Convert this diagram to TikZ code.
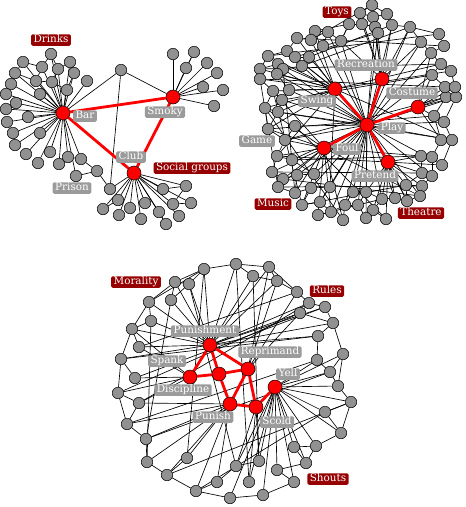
\documentclass[tikz,border=0pt]{standalone}
\usepackage{fontspec}
\setmainfont{DejaVu Serif}
\pgfdeclarelayer{bg}\pgfdeclarelayer{mid}\pgfdeclarelayer{fg}
\pgfsetlayers{bg,mid,main,fg}
\definecolor{nodegray}{RGB}{145,145,145}
\definecolor{labgray}{RGB}{155,155,155}
\definecolor{darkred}{RGB}{150,0,0}
\tikzset{
 gn/.style={circle,draw=black,line width=0.5pt,fill=nodegray,minimum size=11.5pt,inner sep=0pt},
 rn/.style={circle,draw=black,line width=0.5pt,fill=red,minimum size=14pt,inner sep=0pt},
 edge/.style={draw=black,line width=0.65pt},
 redge/.style={draw=red,line width=2.8pt},
 glab/.style={fill=labgray,text=white,rounded corners=1.5pt,inner xsep=2.5pt,inner ysep=1pt,text height=7.3pt,text depth=2.2pt,font=\fontsize{10.4}{11}\selectfont},
 rlab/.style={glab,fill=darkred},
}
\begin{document}
\begin{tikzpicture}[x=1pt,y=-1pt]
\useasboundingbox (0,0) rectangle (466,507);
% ================= Panel 1 =================
\node[rn] (Bar) at (63,113) {};
\node[rn] (Smoky) at (173,97) {};
\node[rn] (Club) at (134,173) {};
\node[gn] (h) at (121,70) {};
\foreach \n/\x/\y in {d1/51/54,d2/23/62,d3/42/67,d4/58/69,d5/70/62,d6/15/73,d7/36/81,d8/52/82,d9/74/73,d10/87/81,
 d11/11/84,d12/67/90,d13/6/94,d14/40/94,d15/16/103,d16/6/109,d17/28/117,d18/7/122,d19/13/133,d20/40/133,
 d21/15/145,d22/50/152,d23/26/154,d24/68/157,d25/81/159,d26/38/163,d27/59/164,d28/97/171,d29/76/176,d30/110/189,
 s1/173/54,s2/194/52,s3/186/68,s4/207/63,s5/217/73,s6/203/87,s7/223/90,s8/214/106,
 c1/103/209,c2/118/200,c3/119/215,c4/130/208,c5/141/219,c6/145/203,c7/159/212,c8/163/189,c9/173/204,c10/179/216,c11/186/186,c12/191/203,c13/166/224}
 \node[gn] (\n) at (\x,\y) {};
\begin{pgfonlayer}{bg}
\foreach \b in {d1,d2,d3,d4,d5,d6,d7,d8,d9,d10,d11,d12,d13,d14,d15,d16,d17,d18,d19,d20,d21,d22,d23,d24,d25,d26,d27,d29,h}
 \draw[edge] (Bar) -- (\b);
\foreach \b in {s1,s2,s3,s4,s5,s6,s7,s8,h}
 \draw[edge] (Smoky) -- (\b);
\foreach \b in {d30,c1,c2,c3,c4,c5,c6,c7,c8,c9,c10,c11,c12,c13}
 \draw[edge] (Club) -- (\b);
\foreach \a/\b in {d2/d3,d1/d3,d1/d4,d4/d5,d5/d9,d3/d7,d7/d8,d8/d4,d8/d12,d9/d12,d2/d6,d6/d7,
 d25/d28,d28/d30,d29/d28,d24/d25,h/d30,s2/s3,c1/c2,c8/c11,c9/c12,c11/c9,c7/c13}
 \draw[edge] (\a) -- (\b);
\end{pgfonlayer}
\begin{pgfonlayer}{mid}
\draw[redge] (Bar) -- (Smoky);
\draw[redge] (Bar) -- (Club);
\draw[redge] (Smoky) -- (Club);
\end{pgfonlayer}
\begin{pgfonlayer}{fg}
\node[rlab] (lDrinks) at (51,40) {Drinks};
\node[glab] (lBar) at (85,116) {Bar};
\node[glab] (lSmoky) at (165,112) {Smoky};
\node[glab] (lClub) at (131,157) {Club};
\node[rlab] (lSocial) at (192,168) {Social groups};
\node[glab] (lPrison) at (72,188) {Prison};
\end{pgfonlayer}
% ================= Panel 2 =================
\node[rn] (Play) at (367,125) {};
\node[rn] (Swing) at (335,89) {};
\node[rn] (Recreation) at (382,79) {};
\node[rn] (Costume) at (418,107) {};
\node[rn] (Foul) at (324,148) {};
\node[rn] (Pretend) at (388,162) {};
\foreach \n/\x/\y in {q1/372/5,q2/360/13,q3/387/14,q4/373/17,q5/349/24,q6/362/24,q7/375/27,q8/392/25,q9/410/27,q10/378/33,
 q11/315/31,q12/328/32,q13/297/38,q14/311/40,q15/323/46,q16/341/41,q17/287/51,q18/268/56,q19/295/57,q20/309/57,
 q21/278/64,q22/302/66,q23/260/69,q24/283/69,q25/277/74,q26/260/79,q27/273/91,q28/289/90,q29/282/100,q30/265/108,
 q31/278/112,q32/295/126,q33/268/129,q34/285/140,q35/277/156,q36/292/160,q37/272/172,q38/283/179,q39/297/175,q40/314/174,
 q41/278/187,q42/295/193,q43/311/188,q44/330/187,q45/302/205,q46/320/202,q47/331/212,q48/318/215,q49/345/205,q50/343/220,
 q51/353/192,q52/366/192,q53/358/205,q54/373/210,q55/366/218,q56/382/199,q57/395/198,q58/386/219,q59/407/201,q60/406/185,
 q61/422/186,q62/420/196,q63/422/173,q64/432/176,q65/421/156,q66/432/157,q67/442/165,q68/441/140,q69/452/140,q70/434/116,
 q71/444/122,q72/446/97,q73/456/97,q74/445/87,q75/455/87,q76/432/75,q77/441/64,q78/451/71,q79/431/53,q80/444/46,
 q81/421/42,q82/439/34}
 \node[gn] (\n) at (\x,\y) {};
\begin{pgfonlayer}{bg}
\foreach \b in {q10,q7,q16,q15,q12,q20,q22,q28,q29,q31,q32,q34,q36,q39,q40,q43,q44,q46,q47,q49,q51,q52,q53,q55,q56,q57,q59,q62,q64,q67,q69,q71,q73,q76,q79,q81,q9,q8,q24,q25}
 \draw[edge] (Play) -- (\b);
\foreach \b in {q11,q13,q14,q17,q18,q19,q21,q23,q25,q26,q27,q28,q30,q31,q33,q35,q78,q77,q69,q44}
 \draw[edge] (Swing) -- (\b);
\foreach \b in {q27,q30,q33,q34,q35,q37,q38,q41,q42,q45,q48,q50,q47,q65,q62}
 \draw[edge] (Foul) -- (\b);
\foreach \b in {q2,q4,q7,q8,q9,q10,q16,q6,q81}
 \draw[edge] (Recreation) -- (\b);
\foreach \b in {q70,q72,q74,q76,q79,q73,q75,q68}
 \draw[edge] (Costume) -- (\b);
\foreach \b in {q56,q57,q58,q59,q60,q61,q63,q65,q54,q52}
 \draw[edge] (Pretend) -- (\b);
\foreach \a/\b in {q1/q2,q1/q3,q2/q4,q3/q4,q3/q8,q4/q7,q6/q7,q5/q6,q2/q6,q5/q16,q7/q10,q8/q9,q9/q81,q9/q82,q81/q79,q82/q80,
 q80/q79,q79/q77,q77/q78,q77/q76,q78/q75,q76/q74,q74/q75,q74/q72,q75/q73,q72/q73,q72/q70,q73/q71,q70/q71,q71/q69,q70/q68,
 q68/q69,q68/q66,q69/q67,q65/q66,q66/q67,q65/q63,q66/q64,q63/q64,q63/q60,q64/q61,q60/q61,q61/q62,q62/q59,q60/q59,q59/q57,
 q57/q56,q56/q54,q56/q52,q54/q58,q54/q55,q55/q53,q53/q52,q52/q51,q51/q49,q53/q49,q49/q50,q49/q47,q47/q48,q47/q46,q46/q45,
 q46/q44,q44/q43,q43/q45,q43/q42,q42/q41,q42/q39,q41/q38,q38/q37,q38/q39,q39/q40,q40/q36,q36/q35,q37/q35,q35/q34,q34/q33,
 q34/q32,q33/q30,q33/q31,q31/q30,q31/q29,q30/q27,q29/q27,q29/q28,q27/q26,q28/q25,q26/q23,q25/q24,q24/q21,q23/q21,q23/q18,
 q21/q18,q18/q17,q17/q13,q19/q17,q19/q20,q22/q20,q22/q24,q13/q14,q14/q11,q11/q12,q12/q15,q14/q15,q15/q16,q12/q16,q16/q5,
 q26/q74,q23/q77,q33/q70,q35/q67,q37/q63,q41/q61,q13/q80,q18/q82,q45/q60,q48/q56,q34/q72,q31/q69,q19/q10,q20/q8,q22/q9,
 q27/q45,q24/q42,q26/q41,q29/q76,q36/q65,q38/q62,q30/q50,q32/q58,q14/q1,q11/q5}
 \draw[edge] (\a) -- (\b);
\end{pgfonlayer}
\begin{pgfonlayer}{mid}
\foreach \b in {Swing,Recreation,Costume,Foul,Pretend}
 \draw[redge] (Play) -- (\b);
\end{pgfonlayer}
\begin{pgfonlayer}{fg}
\node[rlab] (lToys) at (337,12) {Toys};
\node[glab] (lRecreation) at (366,65) {Recreation};
\node[glab] (lCostume) at (412,93) {Costume};
\node[glab] (lSwing) at (317,101) {Swing};
\node[glab] (lPlay) at (392,128) {Play};
\node[glab] (lGame) at (257,141) {Game};
\node[glab] (lFoul) at (347,149) {Foul};
\node[glab] (lPretend) at (375,176) {Pretend};
\node[rlab] (lMusic) at (273,204) {Music};
\node[rlab] (lTheatre) at (421,213) {Theatre};
\end{pgfonlayer}
% ================= Panel 3 =================
\node[rn] (R1) at (210,345) {};
\node[rn] (R2) at (190,377) {};
\node[rn] (R3) at (219,374) {};
\node[rn] (R4) at (248,369) {};
\node[rn] (R5) at (275,387) {};
\node[rn] (R6) at (230,404) {};
\node[rn] (R7) at (256,407) {};
\foreach \n/\x/\y in {t1/236/264,t2/204/269,t3/269/267,t4/253/276,t5/189/284,t6/175/282,t7/277/281,t8/171/300,t9/149/302,t10/297/292,
 t11/309/303,t12/325/307,t13/300/313,t14/151/321,t15/132/329,t16/333/323,t17/318/336,t18/139/347,t19/121/359,t20/317/360,
 t21/343/354,t22/330/372,t23/135/378,t24/118/393,t25/338/386,t26/351/402,t27/139/403,t28/325/412,t29/127/424,t30/146/439,
 t31/341/433,t32/294/447,t33/316/446,t34/187/458,t35/259/461,t36/306/463,t37/147/462,t38/236/466,t39/277/470,t40/167/475,
 t41/217/482,t42/249/482,t43/294/482,t44/196/491,t45/263/495,t46/230/498}
 \node[gn] (\n) at (\x,\y) {};
\begin{pgfonlayer}{bg}
\foreach \b in {t1,t2,t3,t4,t5,t6,t7,t8,t9,t11,t12,t13,t14,t15,t16,t17,t18,t19}
 \draw[edge] (R1) -- (\b);
\foreach \b in {t20,t21,t22,t25,t26,t28,t31,t32,t33,t35,t36,t38,t39,t42,t43,t45,t46}
 \draw[edge] (R5) -- (\b);
\foreach \b in {t23,t24,t27,t18,t15}
 \draw[edge] (R2) -- (\b);
\foreach \b in {t27,t29,t30,t34,t37,t40,t41,t44}
 \draw[edge] (R6) -- (\b);
\foreach \b in {t35,t38,t42}
 \draw[edge] (R7) -- (\b);
\foreach \b in {t7,t10,t13,t3}
 \draw[edge] (R4) -- (\b);
\foreach \a/\b in {t2/t1,t1/t4,t1/t3,t3/t7,t4/t7,t3/t10,t7/t10,t10/t11,t11/t13,t11/t12,t12/t16,t13/t16,t16/t17,t17/t20,
 t16/t21,t20/t22,t21/t22,t21/t25,t22/t25,t25/t26,t26/t31,t26/t28,t28/t31,t31/t33,t33/t32,t32/t36,t33/t36,t36/t39,t39/t43,
 t43/t45,t45/t46,t46/t44,t44/t41,t41/t38,t38/t35,t44/t40,t40/t37,t40/t34,t37/t30,t30/t29,t29/t24,t29/t27,t24/t27,t24/t19,
 t19/t23,t19/t15,t15/t18,t15/t14,t15/t9,t9/t14,t9/t6,t6/t5,t5/t2,t2/t6,t6/t8,t8/t5,t9/t2,
 t2/t34,t4/t35,t8/t30,t12/t23,t17/t19,t11/t27,t13/t24,t26/t40,t28/t44,t20/t29,t1/t42,t5/t38,t14/t37,t10/t18,t22/t30}
 \draw[edge] (\a) -- (\b);
\end{pgfonlayer}
\begin{pgfonlayer}{mid}
\foreach \a/\b in {R1/R2,R1/R3,R1/R4,R2/R3,R3/R4,R3/R6,R4/R6,R4/R7,R6/R7,R5/R7}
 \draw[redge] (\a) -- (\b);
\end{pgfonlayer}
\begin{pgfonlayer}{fg}
\node[rlab] (lMorality) at (136,282) {Morality};
\node[rlab] (lRules) at (327,291) {Rules};
\node[rlab] (lShouts) at (328,479) {Shouts};
\node[glab] (lPunishment) at (205,331) {Punishment};
\node[glab] (lSpank) at (167,361) {Spank};
\node[glab] (lReprimand) at (270,352) {Reprimand};
\node[glab] (lYell) at (288,374) {Yell};
\node[glab] (lDiscipline) at (183,390) {Discipline};
\node[glab] (lPunish) at (213,417) {Punish};
\node[glab] (lScold) at (277,422) {Scold};
\end{pgfonlayer}
\end{tikzpicture}
\end{document}
